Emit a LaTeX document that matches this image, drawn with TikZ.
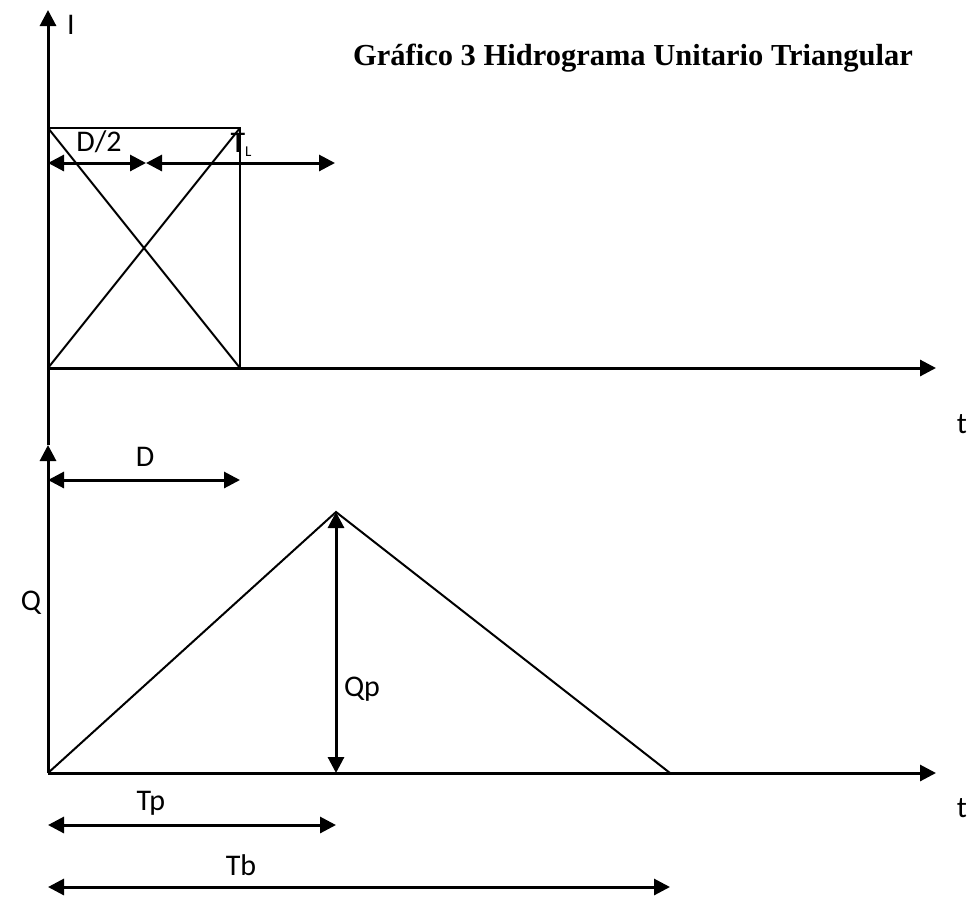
\documentclass[tikz,border=0pt]{standalone}
\usepackage{fontspec}
\setmainfont{Carlito}
\newfontfamily\titlefont{Liberation Serif}
\usetikzlibrary{arrows.meta}
\begin{document}
\begin{tikzpicture}[x=1pt,y=-1pt,
  axis/.style={line width=3pt,-{Triangle[length=16pt,width=16pt]}},
  thin/.style={line width=2pt},
  dim/.style={line width=3pt,{Triangle[length=16pt,width=16pt]}-{Triangle[length=16pt,width=16pt]}},
  lbl/.style={font=\fontsize{30}{34}\selectfont,inner sep=0pt}]
\useasboundingbox (0,0) rectangle (968,900);
% coordinates
\coordinate (o1) at (48,368);
\coordinate (top1) at (48,10);
\coordinate (x1) at (936,368);
\coordinate (r1) at (48,128);
\coordinate (r2) at (240,128);
\coordinate (r3) at (240,368);
\coordinate (h0) at (48,163);
\coordinate (h1) at (146,163);
\coordinate (h2) at (335,163);
\coordinate (o2) at (48,773);
\coordinate (top2) at (48,445);
\coordinate (x2) at (936,773);
\coordinate (d0) at (48,480);
\coordinate (d1) at (240,480);
\coordinate (pk) at (336,512);
\coordinate (pb) at (336,773);
\coordinate (tb) at (670,773);
\coordinate (tp0) at (48,825);
\coordinate (tp1) at (336,825);
\coordinate (tb0) at (48,887);
\coordinate (tb1) at (670,887);
% upper graph
\draw[axis] (top2) -- (top1);
\draw[axis] (o1) -- (x1);
\draw[thin] (r1) -- (r2) -- (r3);
\draw[thin] (r1) -- (r3);
\draw[thin] (o1) -- (r2);
\draw[dim] (h0) -- (h1);
\draw[dim] (h1) -- (h2);
\node[lbl] (lI) at (71,25) {I};
\node[lbl] (lD2) at (99,142) {D/2};
\node[lbl] (lTL) at (241,145) {T\raisebox{-0.3ex}{\fontsize{15}{17}\selectfont L}};
\node[font=\titlefont\bfseries\fontsize{30.5}{35}\selectfont,inner sep=0pt] (title) at (633,58) {Gráfico 3 Hidrograma Unitario Triangular};
\node[lbl] (t1) at (962,424) {t};
% lower graph
\draw[axis] (o2) -- (top2);
\draw[axis] (o2) -- (x2);
\draw[dim] (d0) -- (d1);
\node[lbl] (lD) at (145,457) {D};
\node[lbl] (lQ) at (31,603) {Q};
\draw[thin] (o2) -- (pk) -- (tb);
\draw[dim] (pk) -- (pb);
\node[lbl] (lQp) at (362,689) {Qp};
\draw[dim] (tp0) -- (tp1);
\node[lbl] (lTp) at (151,803) {Tp};
\draw[dim] (tb0) -- (tb1);
\node[lbl] (lTb) at (241,865) {Tb};
\node[lbl] (t2) at (962,808) {t};
\end{tikzpicture}
\end{document}
